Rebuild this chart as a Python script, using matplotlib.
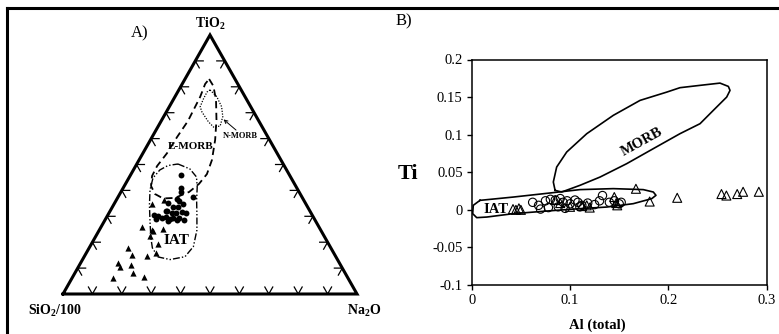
import numpy as np
import matplotlib
matplotlib.use("Agg")
import matplotlib.pyplot as plt
from matplotlib.lines import Line2D

plt.rcParams['font.family'] = ['Liberation Serif', 'DejaVu Serif']
plt.rcParams['mathtext.fontset'] = 'custom'
plt.rcParams['mathtext.rm'] = 'Liberation Serif'
plt.rcParams['mathtext.bf'] = 'Liberation Serif:bold'

# ---------------- Panel A data (wt% TiO2, Na2O, SiO2/100) ----------------
triA_TiO2 = [34.7, 36.3, 26.0, 24.7, 24.3, 25.0, 22.4, 19.2, 15.7, 14.7, 17.6, 15.1, 11.9, 10.5, 11.2, 8.0, 6.3, 6.7]
triA_Na2O = [12.8, 16.3, 13.8, 17.8, 18.6, 21.6, 18.4, 22.8, 23.7, 21.2, 13.2, 15.9, 12.9, 14.1, 17.4, 19.9, 14.0, 24.3]
triA_SiO2 = [52.5, 47.4, 60.2, 57.5, 57.1, 53.4, 59.2, 58.0, 60.6, 64.1, 69.2, 69.0, 75.2, 75.4, 71.4, 72.1, 79.7, 69.0]

dotA_TiO2 = [45.9, 40.8, 39.2, 37.3, 36.6, 35.0, 33.7, 33.5, 34.7, 32.2, 31.8, 31.4, 30.5, 30.1, 29.2, 29.8, 28.8, 29.2, 28.6, 29.2, 28.6, 28.8, 31.4, 31.2, 31.3, 36.0, 28.2]
dotA_Na2O = [17.2, 19.7, 20.7, 25.4, 20.4, 18.3, 20.6, 22.5, 23.3, 19.2, 24.5, 26.1, 15.7, 17.3, 19.0, 20.1, 22.0, 22.9, 24.4, 25.0, 26.9, 17.2, 21.3, 22.8, 18.4, 21.5, 21.7]
dotA_SiO2 = [36.9, 39.5, 40.1, 37.3, 43.0, 46.7, 45.7, 44.0, 42.0, 48.6, 43.7, 42.5, 53.8, 52.6, 51.8, 50.1, 49.2, 47.9, 47.0, 45.8, 44.5, 54.0, 47.3, 46.0, 47.6, 42.5, 50.1]

# field outlines (TiO2, Na2O); SiO2 is the remainder
emorb_TiO2 = [83.0, 80.3, 74.9, 67.2, 59.5, 51.7, 46.3, 42.5, 39.4, 37.1, 36.9, 38.6, 41.7, 45.6, 49.4, 54.4, 60.6, 66.8, 76.1, 81.1]
emorb_Na2O = [8.2, 11.0, 14.6, 18.6, 22.0, 24.8, 25.8, 25.0, 23.2, 19.5, 15.6, 12.0, 9.1, 7.5, 7.3, 8.2, 8.5, 9.1, 8.6, 7.8]
nmorb_TiO2 = [78.8, 76.2, 72.3, 68.5, 64.9, 64.3, 66.5, 70.3, 72.3, 75.3, 78.0]
nmorb_Na2O = [10.6, 14.2, 17.8, 20.1, 21.0, 19.2, 16.2, 12.1, 10.5, 10.1, 10.0]
iat_TiO2 = [50.2, 48.3, 45.2, 41.3, 36.3, 30.5, 24.7, 18.3, 14.4, 13.3, 14.3, 17.8, 21.6, 27.8, 34.4, 40.2, 44.8, 47.9, 49.6]
iat_Na2O = [14.0, 19.0, 22.8, 25.0, 27.3, 30.3, 33.2, 35.2, 34.3, 29.8, 25.2, 21.5, 19.1, 15.7, 12.2, 9.5, 8.2, 9.0, 10.9]

tick_fracs = [10, 20, 30, 40, 50, 60, 70, 80, 90]

# ---------------- Panel B data ----------------
circB_Al = [0.062, 0.068, 0.075, 0.080, 0.085, 0.090, 0.093, 0.097, 0.100, 0.105, 0.108, 0.112, 0.118, 0.125, 0.130, 0.133, 0.140, 0.145, 0.150, 0.152, 0.088, 0.095, 0.078, 0.070, 0.110]
circB_Ti = [0.010, 0.006, 0.012, 0.014, 0.013, 0.015, 0.010, 0.012, 0.008, 0.013, 0.010, 0.006, 0.009, 0.007, 0.012, 0.019, 0.010, 0.012, 0.008, 0.010, 0.004, 0.002, 0.003, 0.001, 0.004]
triB_Al = [0.042, 0.045, 0.048, 0.050, 0.085, 0.090, 0.100, 0.112, 0.117, 0.120, 0.145, 0.147, 0.148, 0.167, 0.181, 0.209, 0.254, 0.259, 0.270, 0.276, 0.292]
triB_Ti = [0.001, 0.000, 0.002, 0.000, 0.013, 0.009, 0.004, 0.005, 0.006, 0.003, 0.017, 0.009, 0.006, 0.028, 0.011, 0.016, 0.021, 0.019, 0.021, 0.024, 0.024]

morb_Al = [0.0848, 0.0830, 0.0864, 0.0966, 0.1170, 0.1440, 0.1712, 0.1983, 0.2118, 0.2322, 0.2525, 0.2610, 0.2627, 0.2593, 0.2457, 0.2322, 0.2118, 0.1847, 0.1576, 0.1305, 0.1101, 0.0915]
morb_Ti = [0.0259, 0.0370, 0.0569, 0.0769, 0.1013, 0.1257, 0.1456, 0.1566, 0.1625, 0.1656, 0.1686, 0.1642, 0.1589, 0.1500, 0.1323, 0.1146, 0.1013, 0.0814, 0.0614, 0.0436, 0.0326, 0.0237]
iatB_Al = [0.0084, 0.0423, 0.0830, 0.1101, 0.1440, 0.1745, 0.1847, 0.1874, 0.1831, 0.1643, 0.1373, 0.1101, 0.0763, 0.0423, 0.0153, 0.0051, 0.0010, 0.0016]
iatB_Ti = [0.0126, 0.0170, 0.0229, 0.0269, 0.0282, 0.0269, 0.0237, 0.0193, 0.0149, 0.0082, 0.0037, 0.0016, -0.0016, -0.0051, -0.0096, -0.0104, -0.0051, 0.0060]

xticksB = [0, 0.1, 0.2, 0.3]
yticksB = [-0.1, -0.05, 0, 0.05, 0.1, 0.15, 0.2]

W, H = 779, 334
fig = plt.figure(figsize=(W / 100, H / 100), dpi=100)

def fx(px):
    return px / W

def fy(py):
    return 1 - py / H

S3 = np.sqrt(3) / 2

def tern(ti, na, si=None):
    ti = np.asarray(ti, float)
    na = np.asarray(na, float)
    if si is None:
        si = 100 - ti - na
    tot = ti + na + np.asarray(si, float)
    ti = ti / tot
    na = na / tot
    return na + ti / 2, ti * S3

def closed(x, y):
    return np.append(x, x[0]), np.append(y, y[0])

# outer frame
fig.add_artist(Line2D([fx(7), fx(7)], [fy(8), fy(340)], color='black', lw=2.2))
fig.add_artist(Line2D([fx(7), fx(785)], [fy(8), fy(8)], color='black', lw=2.2))

# ---------------- Panel A: ternary ----------------
axA = fig.add_axes([fx(63), fy(294), (357 - 63) / W, (294 - 35) / H])
axA.set_xlim(0, 1)
axA.set_ylim(0, S3)
axA.axis('off')

axA.plot([0, 1, 0.5, 0], [0, 0, S3, 0], color='black', lw=2.2, solid_joinstyle='miter', clip_on=False, zorder=3)
L = 0.027
for f in tick_fracs:
    g = f / 100
    # bottom edge
    bx, by = g, 0
    axA.plot([bx - L * 0.5, bx, bx + L * 0.5], [by + L * S3, by, by + L * S3], color='black', lw=0.9)
    # left edge
    lx, ly = g / 2, g * S3
    axA.plot([lx + L, lx, lx + L * 0.5], [ly, ly, ly - L * S3], color='black', lw=0.9)
    # right edge
    rx, ry = 1 - g / 2, g * S3
    axA.plot([rx - L, rx, rx - L * 0.5], [ry, ry, ry - L * S3], color='black', lw=0.9)

x, y = closed(*tern(emorb_TiO2, emorb_Na2O))
axA.plot(x, y, color='black', lw=1.3, linestyle=(0, (4, 2.5)))
x, y = closed(*tern(nmorb_TiO2, nmorb_Na2O))
axA.plot(x, y, color='black', lw=0.9, linestyle=(0, (1, 1.2)))
x, y = closed(*tern(iat_TiO2, iat_Na2O))
axA.plot(x, y, color='black', lw=1.0, linestyle=(0, (5, 1.5, 1, 1.5, 1, 1.5)))

x, y = tern(triA_TiO2, triA_Na2O, triA_SiO2)
axA.scatter(x, y, marker='^', s=20, color='black', zorder=4, linewidths=0)
x, y = tern(dotA_TiO2, dotA_Na2O, dotA_SiO2)
axA.scatter(x, y, marker='o', s=18, color='black', zorder=4, linewidths=0)

x, y = tern([56.8], [15.0])
axA.text(x[0], y[0], 'E-MORB', fontsize=8, fontweight='bold', ha='center', va='center')
x, y = tern([61.0], [29.9])
axA.text(x[0], y[0], 'N-MORB', fontsize=6, fontweight='bold', ha='center', va='center')
x, y = tern([20.8], [28.2])
axA.text(x[0], y[0], 'IAT', fontsize=11, fontweight='bold', ha='center', va='center')
xa, ya = tern([63.3, 67.4], [27.2, 20.9])
axA.annotate('', xy=(xa[1], ya[1]), xytext=(xa[0], ya[0]),
             arrowprops=dict(arrowstyle='->', lw=0.7, color='black', shrinkA=0, shrinkB=0,
                             mutation_scale=6))

fig.text(fx(210), fy(24), 'TiO$_\\mathbf{2}$', fontsize=10, fontweight='bold', ha='center', va='center')
fig.text(fx(55), fy(311), 'SiO$_\\mathbf{2}$/100', fontsize=10, fontweight='bold', ha='center', va='center')
fig.text(fx(364), fy(311), 'Na$_\\mathbf{2}$O', fontsize=10, fontweight='bold', ha='center', va='center')
fig.text(fx(140), fy(33), 'A)', fontsize=12, ha='center', va='center')

# ---------------- Panel B ----------------
axB = fig.add_axes([fx(471.7), fy(285), (766.7 - 471.7) / W, (285 - 59.5) / H])
axB.set_xlim(0, 0.3)
axB.set_ylim(-0.1, 0.2)
axB.set_xticks(xticksB)
axB.set_xticklabels(['0', '0.1', '0.2', '0.3'])
axB.set_yticks(yticksB)
axB.set_yticklabels(['-0.1', '-0.05', '0', '0.05', '0.1', '0.15', '0.2'])
axB.tick_params(direction='out', length=3.5, width=1, labelsize=10.5, pad=3)
for sp in axB.spines.values():
    sp.set_linewidth(1.1)

x, y = closed(np.array(morb_Al), np.array(morb_Ti))
axB.plot(x, y, color='black', lw=1.2)
x, y = closed(np.array(iatB_Al), np.array(iatB_Ti))
axB.plot(x, y, color='black', lw=1.2)
axB.scatter(circB_Al, circB_Ti, marker='o', s=36, facecolors='none', edgecolors='black', linewidths=0.8, clip_on=False)
axB.scatter(triB_Al, triB_Ti, marker='^', s=42, facecolors='none', edgecolors='black', linewidths=0.8, clip_on=False)
axB.text(0.0245, 0.0, 'IAT', fontsize=10.5, fontweight='bold', ha='center', va='center')
axB.text(0.1729, 0.0902, 'MORB', fontsize=10.5, fontweight='bold', ha='center', va='center', rotation=29)

fig.text(fx(408), fy(174), 'Ti', fontsize=16, fontweight='bold', ha='center', va='center')
fig.text(fx(597), fy(325), 'Al (total)', fontsize=10.5, fontweight='bold', ha='center', va='center')
fig.text(fx(404), fy(21), 'B)', fontsize=12, ha='center', va='center')

fig.savefig('out.png', dpi=100)
